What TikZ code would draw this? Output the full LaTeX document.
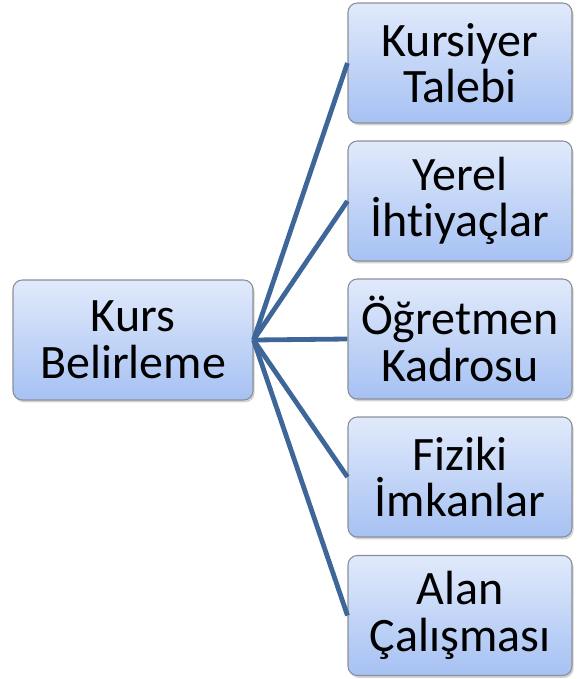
\documentclass[tikz,border=0pt]{standalone}
\usepackage{fontspec}
\setmainfont{Carlito}[Ligatures={NoCommon}]
\usetikzlibrary{shadows}
\definecolor{boxtop}{HTML}{E1EAFB}
\definecolor{boxbottom}{HTML}{A6C1F3}
\definecolor{boxline}{HTML}{8A8F99}
\definecolor{linkblue}{HTML}{3E6699}

\begin{document}
\begin{tikzpicture}[x=0.75pt,y=-0.75pt]
    \tikzstyle{every node} = [font=\fontsize{36}{35}\selectfont]
    \tikzstyle{block} = [draw=boxline, line width=0.8pt, rectangle, rounded corners=7pt, top color=boxtop, bottom color=boxbottom, align=center, drop shadow={opacity=0.35, shadow xshift=1.2pt, shadow yshift=-1.8pt}]
    \tikzstyle{leftblock} = [block, minimum width=180pt, minimum height=90pt]
    \tikzstyle{rightblock} = [block, minimum width=168pt, minimum height=90pt]
    \tikzstyle{link} = [draw=linkblue, line width=3.6pt]
    \useasboundingbox (0,0) rectangle (581,679);
    % place nodes
    \node[leftblock](kursBelirleme) at (133,340){Kurs\\Belirleme};
    \node[rightblock](kursiyerTalebi) at (460,63){Kursiyer\\Talebi};
    \node[rightblock](yerelIhtiyaclar) at (460,201){Yerel\\İhtiyaçlar};
    \node[rightblock](ogretmenKadrosu) at (460,339){Öğretmen\\Kadrosu};
    \node[rightblock](fizikiImkanlar) at (460,477){Fiziki\\İmkanlar};
    \node[rightblock](alanCalismasi) at (460,615.5){Alan\\Çalışması};

    % Connections
    \foreach \target in {kursiyerTalebi,yerelIhtiyaclar,ogretmenKadrosu,fizikiImkanlar,alanCalismasi}
    \draw[link] (kursBelirleme.east)--(\target.west);

  \end{tikzpicture}
\end{document}
